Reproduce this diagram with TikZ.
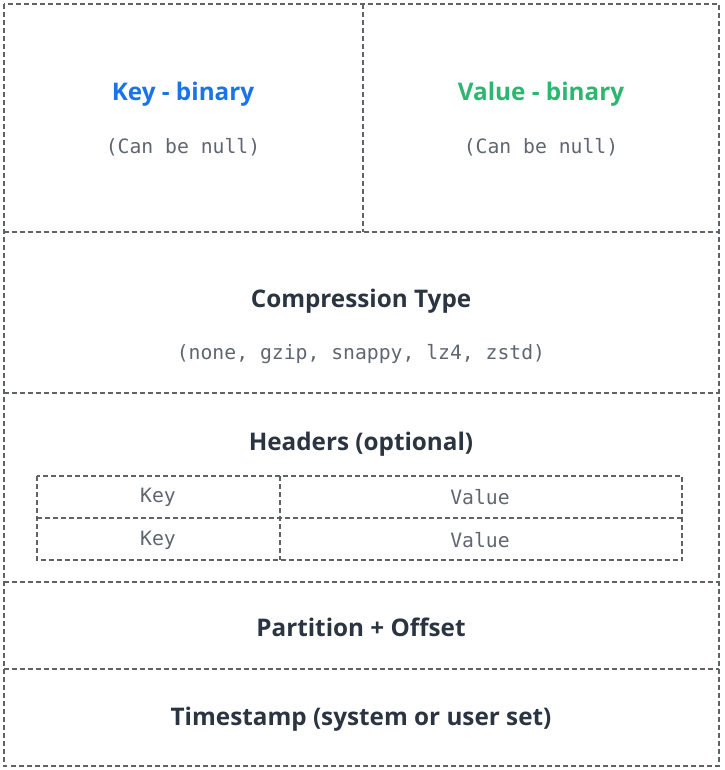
\documentclass[tikz,border=0pt]{standalone}
\usepackage{fontspec}
\setmainfont{Open Sans}
\newfontfamily\monofont{DejaVu Sans Mono}
\definecolor{boxgrey}{HTML}{5F6368}
\definecolor{darktext}{HTML}{2B3441}
\definecolor{keyblue}{HTML}{1A73E8}
\definecolor{valgreen}{HTML}{2DB670}
\definecolor{monogrey}{HTML}{5F6670}
\tikzset{every picture/.style={line width=0.75pt}}
\tikzset{
  dashbox/.style={draw=boxgrey, line width=1.5pt, dash pattern={on 3.75pt off 2.25pt}},
  title/.style={font=\fontsize{18.2}{20}\selectfont\bfseries, text=darktext},
  monotext/.style={font=\monofont\fontsize{14.8}{16}\selectfont, text=monogrey}
}
\begin{document}
\begin{tikzpicture}[x=0.75pt,y=0.75pt,yscale=-1,xscale=1]
\path (0,0) rectangle (724,770); %set diagram size

%Shape: Outer Rectangle
\draw [dashbox] (3.5,4.5) rectangle (719,765.5) ;
%Straight Lines: top row divider
\draw [dashbox] (362.5,4.5) -- (362.5,232) ;
%Straight Lines: section dividers
\draw [dashbox] (3.5,232) -- (719,232) ;
\draw [dashbox] (3.5,392.5) -- (719,392.5) ;
\draw [dashbox] (3.5,581.5) -- (719,581.5) ;
\draw [dashbox] (3.5,669) -- (719,669) ;

%Shape: Headers table
\draw [dashbox] (36.5,476) rectangle (682,560) ;
\draw [dashbox] (36.5,518) -- (682,518) ;
\draw [dashbox] (280,476) -- (280,560) ;

% Text Node
\draw (183,94) node [title, text=keyblue] (keylbl) {Key - binary};
% Text Node
\draw (183,147) node [monotext] (keynull) {(Can be null)};
% Text Node
\draw (541,94) node [title, text=valgreen] (vallbl) {Value - binary};
% Text Node
\draw (541,147) node [monotext] (valnull) {(Can be null)};
% Text Node
\draw (361,301) node [title] (comp) {Compression Type};
% Text Node
\draw (361,354) node [monotext] (compopts) {(none, gzip, snappy, lz4, zstd)};
% Text Node
\draw (361,444) node [title] (hdrs) {Headers (optional)};
% Text Node
\draw (158,497) node [monotext] (hkey1) {Key};
\draw (480,497) node [monotext] (hval1) {Value};
\draw (158,540) node [monotext] (hkey2) {Key};
\draw (480,540) node [monotext] (hval2) {Value};
% Text Node
\draw (361,627) node [title] (part) {Partition + Offset};
% Text Node
\draw (361,719) node [title] (tstamp) {Timestamp (system or user set)};

\end{tikzpicture}
\end{document}
